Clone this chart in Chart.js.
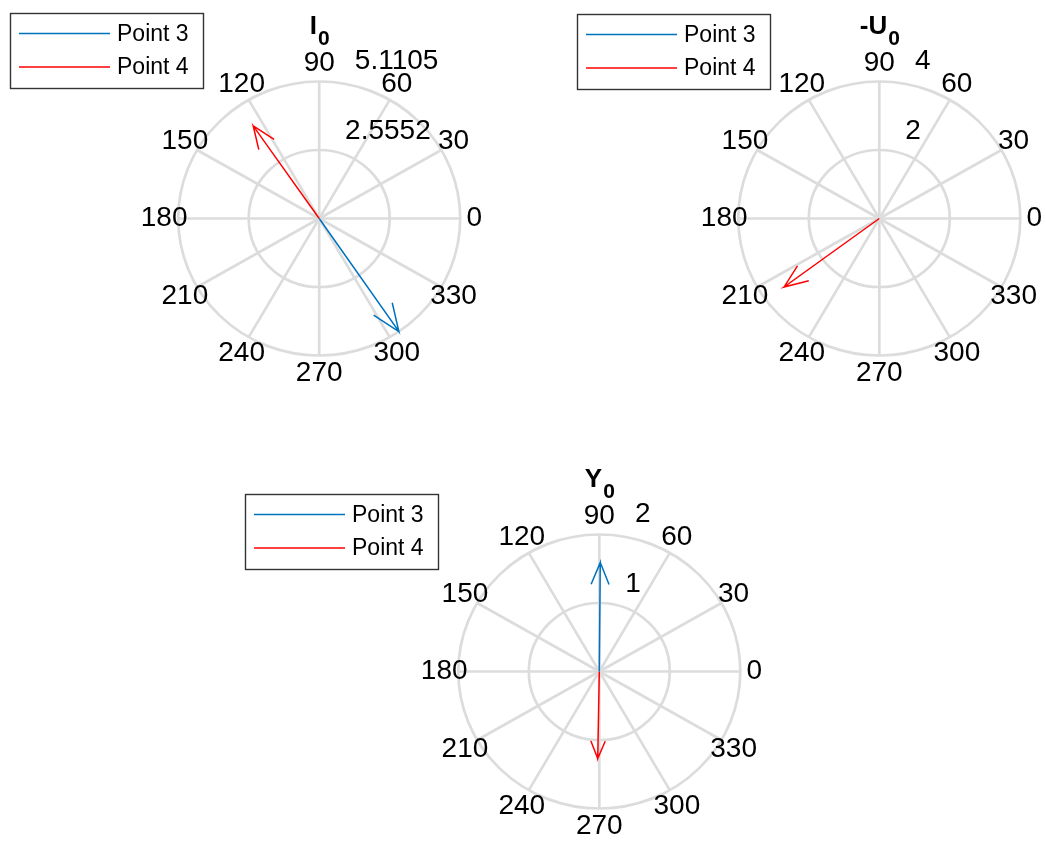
<!DOCTYPE html>
<html>
<head>
<meta charset="utf-8">
<script src="https://cdn.jsdelivr.net/npm/chart.js@4.4.1/dist/chart.umd.min.js"></script>
<style>
html, body { margin: 0; padding: 0; background: #fff; }
#wrap { position: relative; width: 1046px; height: 841px; }
#wrap canvas { position: absolute; left: 0; top: 0; }
</style>
</head>
<body>
<div id="wrap">
    <canvas id="cI0" width="1046" height="841"></canvas>
    <canvas id="cU0" width="1046" height="841"></canvas>
    <canvas id="cY0" width="1046" height="841"></canvas>
</div>
<script>
// series
const seriesNames = ['Point 3', 'Point 4'];
const seriesColors = ['#0072BD', '#FF0000'];

// spoke angles (degrees)
const angleTicks = [0, 30, 60, 90, 120, 150, 180, 210, 240, 270, 300, 330];

// I0 : magnitude / angle (deg) for Point 3, Point 4
const i0Mag = [5.1105, 4.2];
const i0Ang = [304.4, 124.7];
const i0RTicks = [2.5552, 5.1105];

// -U0
const u0Mag = [0, 3.36];
const u0Ang = [0, 216.5];
const u0RTicks = [2, 4];

// Y0
const y0Mag = [1.59, 1.27];
const y0Ang = [89.5, 269];
const y0RTicks = [1, 2];

const FONT = '"Liberation Sans", Arial, Helvetica, sans-serif';
const W = 1046, H = 841;

function arrowPoints(mag, ang) {
    // compass style arrow: origin -> tip -> barb -> tip -> barb
    const t = ang * Math.PI / 180, c = Math.cos(t), s = Math.sin(t);
    const a = [0, 1, 0.8, 1, 0.8];
    const b = [0, 0, 0.08, 0, -0.08];
    return a.map((ai, k) => ({ x: mag * (ai * c - b[k] * s), y: mag * (ai * s + b[k] * c) }));
}

function createCompass(id, title, sub, mags, angs, rTicks, center, legendPos) {
    const rmax = rTicks[rTicks.length - 1];
    const rinc = rTicks[0];
    const rx = 141, ry = 137;

    const compassPlugin = {
        id: 'compassGrid',
        beforeDatasetsDraw(chart) {
            const ctx = chart.ctx;
            const xs = chart.scales.x, ys = chart.scales.y;
            const cx = xs.getPixelForValue(0), cy = ys.getPixelForValue(0);
            ctx.save();
            ctx.strokeStyle = '#dcdcdc';
            ctx.lineWidth = 2.7;
            rTicks.forEach(r => {
                ctx.beginPath();
                ctx.ellipse(cx, cy, xs.getPixelForValue(r) - cx, cy - ys.getPixelForValue(r), 0, 0, Math.PI * 2);
                ctx.stroke();
            });
            angleTicks.filter(a => a < 180).forEach(a => {
                const t = a * Math.PI / 180;
                ctx.beginPath();
                ctx.moveTo(xs.getPixelForValue(-rmax * Math.cos(t)), ys.getPixelForValue(-rmax * Math.sin(t)));
                ctx.lineTo(xs.getPixelForValue(rmax * Math.cos(t)), ys.getPixelForValue(rmax * Math.sin(t)));
                ctx.stroke();
            });
            ctx.restore();
        },
        afterDraw(chart) {
            const ctx = chart.ctx;
            const xs = chart.scales.x, ys = chart.scales.y;
            const cx = xs.getPixelForValue(0), cy = ys.getPixelForValue(0);
            const pxPerUnit = (xs.getPixelForValue(rmax) - cx) / rmax;
            ctx.save();
            ctx.fillStyle = '#000';

            // angle labels
            ctx.font = '28px ' + FONT;
            ctx.textAlign = 'center';
            ctx.textBaseline = 'middle';
            const rl = 1.1 * rmax * pxPerUnit;
            angleTicks.forEach(a => {
                const t = a * Math.PI / 180;
                ctx.fillText(String(a), cx + rl * Math.cos(t), cy - rl * Math.sin(t));
            });

            // radius labels at 82 deg
            ctx.textAlign = 'left';
            ctx.textBaseline = 'bottom';
            const gap = ctx.measureText('  ').width;
            const t82 = 82 * Math.PI / 180;
            rTicks.forEach(r => {
                const rr = (r + rinc / 20) * pxPerUnit;
                ctx.fillText(String(r), cx + rr * Math.cos(t82) + gap, cy - rr * Math.sin(t82));
            });

            // title with subscript
            ctx.textBaseline = 'alphabetic';
            ctx.font = 'bold 26px ' + FONT;
            const w1 = ctx.measureText(title).width;
            ctx.font = 'bold 21px ' + FONT;
            const w2 = ctx.measureText(sub).width;
            const tx = cx - (w1 + w2) / 2;
            ctx.font = 'bold 26px ' + FONT;
            ctx.fillText(title, tx, cy - 185);
            ctx.font = 'bold 21px ' + FONT;
            ctx.fillText(sub, tx + w1 + 1, cy - 173.5);

            // legend
            const [lx, ly] = legendPos;
            ctx.fillStyle = '#fff';
            ctx.fillRect(lx, ly, 193, 75);
            ctx.strokeStyle = '#333';
            ctx.lineWidth = 1.4;
            ctx.strokeRect(lx + 0.5, ly + 0.5, 193, 75);
            ctx.font = '23px ' + FONT;
            ctx.textBaseline = 'middle';
            chart.data.datasets.forEach((ds, i) => {
                const yy = ly + 20.5 + i * 33.5;
                ctx.strokeStyle = ds.borderColor;
                ctx.lineWidth = 1.5;
                ctx.beginPath();
                ctx.moveTo(lx + 9, yy);
                ctx.lineTo(lx + 100, yy);
                ctx.stroke();
                ctx.fillStyle = '#000';
                ctx.fillText(ds.label, lx + 107, yy + 1);
            });
            ctx.restore();
        }
    };

    const ctx = document.getElementById(id).getContext('2d');
    return new Chart(ctx, {
        type: 'scatter',
        data: {
            datasets: seriesNames.map((name, i) => ({
                label: name,
                data: arrowPoints(mags[i], angs[i]),
                showLine: true,
                borderColor: seriesColors[i],
                backgroundColor: seriesColors[i],
                borderWidth: 1.5,
                pointRadius: 0,
                tension: 0,
                clip: false
            }))
        },
        options: {
            responsive: false,
            animation: false,
            devicePixelRatio: 1,
            layout: {
                padding: {
                    left: center[0] - rx,
                    right: W - center[0] - rx,
                    top: center[1] - ry,
                    bottom: H - center[1] - ry
                }
            },
            scales: {
                x: { type: 'linear', min: -rmax, max: rmax, display: false },
                y: { type: 'linear', min: -rmax, max: rmax, display: false }
            },
            plugins: {
                legend: { display: false },
                tooltip: { enabled: false }
            },
            events: []
        },
        plugins: [compassPlugin]
    });
}

createCompass('cI0', 'I', '0', i0Mag, i0Ang, i0RTicks, [319.2, 218.5], [10, 13]);
createCompass('cU0', '-U', '0', u0Mag, u0Ang, u0RTicks, [879.3, 218.5], [577, 14]);
createCompass('cY0', 'Y', '0', y0Mag, y0Ang, y0RTicks, [599.3, 671.5], [245, 494]);
</script>
</body>
</html>
